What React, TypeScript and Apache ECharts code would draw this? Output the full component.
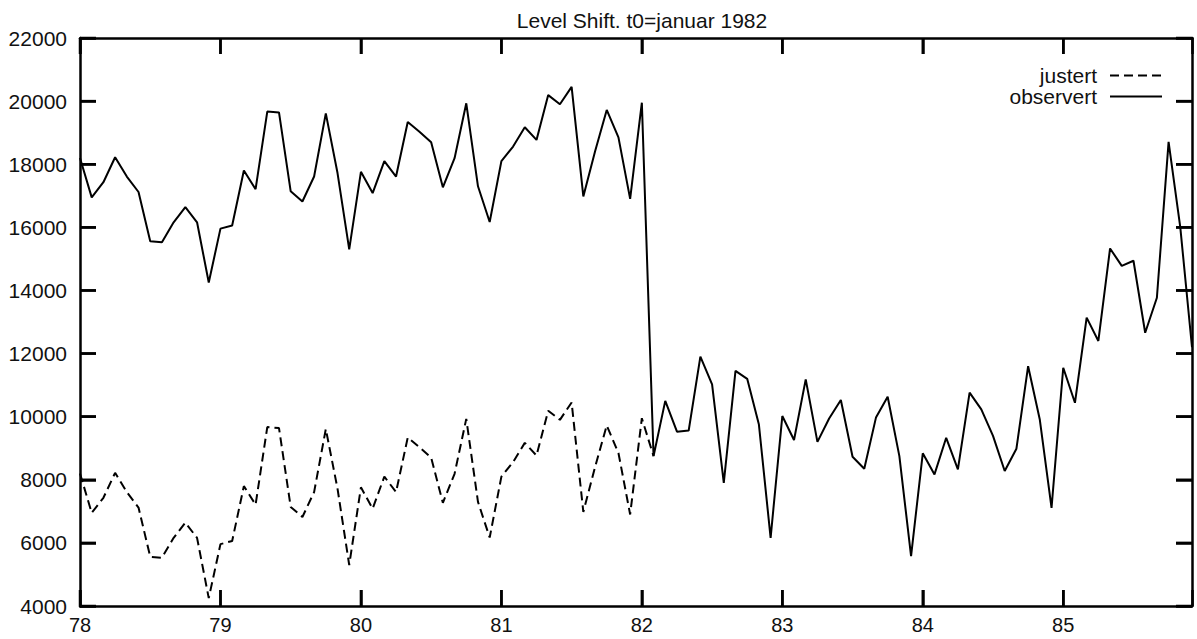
import React, { useEffect, useRef } from "react";
import * as echarts from "echarts";

// Monthly series, January 1978 to December 1985 (x = year + month/12)
const startYear = 78;
const monthsPerYear = 12;

const observert = [
  18200, 16950, 17430, 18220, 17610, 17120, 15560, 15530, 16160, 16640, 16160, 14250,
  15960, 16060, 17800, 17210, 19670, 19640, 17140, 16820, 17610, 19610, 17720, 15300,
  17760, 17085, 18100, 17610, 19340, 19030, 18700, 17270, 18190, 19930, 17300, 16170,
  18100, 18560, 19170, 18770, 20190, 19900, 20450, 16980, 18400, 19720, 18850, 16900,
  19950, 8750, 10500, 9525, 9560, 11900, 11025, 7900, 11450, 11200, 9750, 6160,
  10020, 9260, 11180, 9200, 9940, 10530, 8730, 8350, 9970, 10630, 8750, 5580,
  8840, 8170, 9330, 8330, 10760, 10230, 9390, 8280, 8985, 11600, 9900, 7110,
  11550, 10440, 13140, 12400, 15330, 14780, 14940, 12660, 13770, 18710, 16000, 12200,
];

const justert = [
  8200, 6950, 7430, 8220, 7610, 7120, 5560, 5530, 6160, 6640, 6160, 4250,
  5960, 6060, 7800, 7210, 9670, 9640, 7140, 6820, 7610, 9610, 7720, 5300,
  7760, 7085, 8100, 7610, 9340, 9030, 8700, 7270, 8190, 9930, 7300, 6170,
  8100, 8560, 9170, 8770, 10190, 9900, 10450, 6980, 8400, 9720, 8850, 6900,
  9950, 8750,
];

const xTickLabels = ["78", "79", "80", "81", "82", "83", "84", "85"];
const yTickValues = [4000, 6000, 8000, 10000, 12000, 14000, 16000, 18000, 20000, 22000];
const yMin = 4000;
const yMax = 22000;
const yStep = 2000;

const titleText = "Level Shift. t0=januar 1982";
const FONT = "'Liberation Sans', Arial, Helvetica, sans-serif";

const TICK_LEN = 16;

const toPairs = (vals: number[]) =>
  vals.map((v, i) => [startYear + i / monthsPerYear, v]);

const frameLine = () => ({ show: true, onZero: false, lineStyle: { color: "#000", width: 2.5 } });
const inTick = () => ({ show: true, inside: true, length: TICK_LEN, lineStyle: { color: "#000", width: 2.5 } });

export default function App() {
  const ref = useRef<HTMLDivElement>(null);

  useEffect(() => {
    if (!ref.current) return;
    const chart = echarts.init(ref.current, null, { renderer: "svg" });
    const xMin = 78;
    const xMax = 85 + 11 / 12;
    const xTickValues = xTickLabels.map(Number);

    chart.setOption({
      animation: false,
      backgroundColor: "#fff",
      title: {
        text: titleText,
        left: 637,
        top: 5,
        textAlign: "center",
        textStyle: { fontFamily: FONT, fontSize: 21, fontWeight: "normal", color: "#111" },
      },
      legend: {
        orient: "vertical",
        right: 34,
        top: 65,
        padding: 0,
        align: "right",
        itemWidth: 52,
        itemHeight: 10,
        itemGap: 0,
        itemStyle: { opacity: 0 },
        textStyle: { fontFamily: FONT, fontSize: 21, color: "#111", padding: [0, 8, 0, 0] },
        data: ["justert", "observert"],
      },
      grid: { left: 80, right: 5, top: 38, bottom: 33, containLabel: false },
      xAxis: [
        {
          type: "value",
          position: "bottom",
          min: xMin,
          max: xMax,
          interval: 1,
          axisLine: frameLine(),
          axisTick: inTick(),
          splitLine: { show: false },
          axisLabel: {
            margin: 9,
            fontFamily: FONT,
            fontSize: 20,
            color: "#111",
            formatter: (v: number) => {
              const idx = Math.round(v - xMin);
              return Math.abs(v - Math.round(v)) < 1e-6 && xTickLabels[idx] ? xTickLabels[idx] : "";
            },
          },
        },
        {
          type: "value",
          position: "top",
          min: xMin,
          max: xMax,
          interval: 1,
          axisLine: frameLine(),
          axisTick: inTick(),
          axisLabel: { show: false },
          splitLine: { show: false },
        },
      ],
      yAxis: [
        {
          type: "value",
          position: "left",
          min: yMin,
          max: yMax,
          interval: yStep,
          axisLine: frameLine(),
          axisTick: inTick(),
          splitLine: { show: false },
          axisLabel: {
            margin: 13,
            fontFamily: FONT,
            fontSize: 21,
            color: "#111",
            formatter: (v: number) => String(v),
          },
        },
        {
          type: "value",
          position: "right",
          min: yMin,
          max: yMax,
          interval: yStep,
          axisLine: frameLine(),
          axisTick: inTick(),
          axisLabel: { show: false },
          splitLine: { show: false },
        },
      ],
      series: [
        {
          name: "observert",
          type: "line",
          data: toPairs(observert),
          showSymbol: false,
          symbol: "none",
          lineStyle: { color: "#000", width: 2 },
        },
        {
          name: "justert",
          type: "line",
          data: toPairs(justert),
          showSymbol: false,
          symbol: "none",
          lineStyle: { color: "#000", width: 2, type: [9, 5] },
        },
      ],
    });

    // Inward tick marks on all four edges, placed through the chart's own scales.
    const px = (x: number, y: number) =>
      chart.convertToPixel({ xAxisIndex: 0, yAxisIndex: 0 }, [x, y]) as number[];
    const tickStyle = { stroke: "#000", lineWidth: 2.5 };
    const tickEls: any[] = [];
    xTickValues.forEach((v) => {
      const b = px(v, yMin);
      const t = px(v, yMax);
      tickEls.push({ type: "line", silent: true, z: 50, shape: { x1: b[0], y1: b[1], x2: b[0], y2: b[1] - TICK_LEN }, style: tickStyle });
      tickEls.push({ type: "line", silent: true, z: 50, shape: { x1: t[0], y1: t[1], x2: t[0], y2: t[1] + TICK_LEN }, style: tickStyle });
    });
    yTickValues.forEach((v) => {
      const l = px(xMin, v);
      const r = px(xMax, v);
      tickEls.push({ type: "line", silent: true, z: 50, shape: { x1: l[0], y1: l[1], x2: l[0] + TICK_LEN, y2: l[1] }, style: tickStyle });
      tickEls.push({ type: "line", silent: true, z: 50, shape: { x1: r[0], y1: r[1], x2: r[0] - TICK_LEN, y2: r[1] }, style: tickStyle });
    });
    chart.setOption({ graphic: { elements: tickEls } });

    return () => chart.dispose();
  }, []);

  return (
    <div
      ref={ref}
      style={{ position: "absolute", left: 0, top: 0, width: 1197, height: 639, background: "#fff" }}
    />
  );
}
